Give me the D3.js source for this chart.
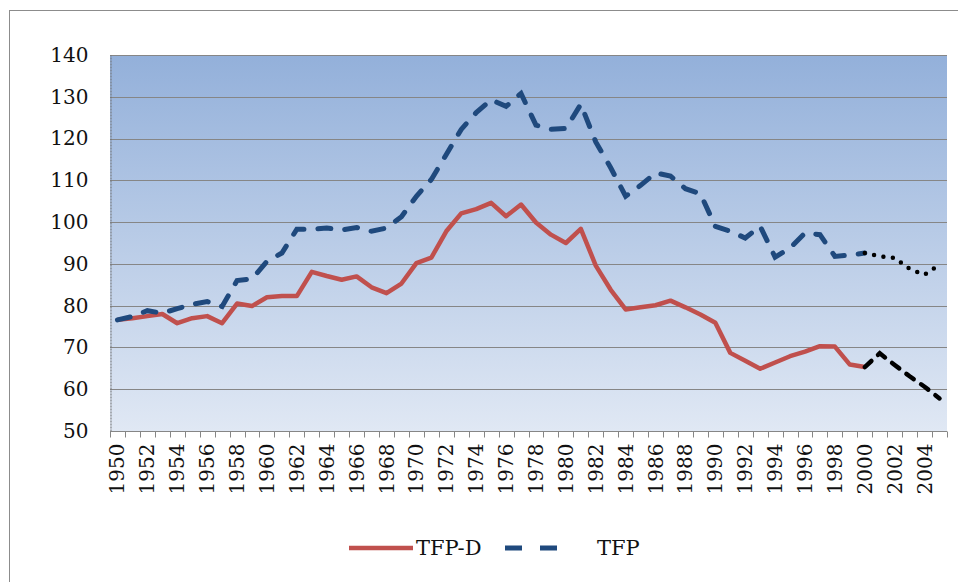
<!DOCTYPE html>
<html>
<head>
<meta charset="utf-8">
<script src="https://cdn.jsdelivr.net/npm/d3@7"></script>
<style>
  html, body { margin: 0; padding: 0; background: #fff; }
  svg { display: block; }
</style>
</head>
<body>
<svg id="chart" width="958" height="582"></svg>
<script>
// Years on the category axis (1950–2005); labels shown every second year
const years = d3.range(1950, 2006);
const tickLabels = d3.range(1950, 2005, 2);

// Observed series, 1950–2000
const tfpD = [
  76.6, 77.0, 77.5, 78.0, 75.8, 77.0, 77.5, 75.8, 80.5, 79.9,
  82.0, 82.3, 82.3, 88.1, 87.1, 86.2, 87.0, 84.4, 83.0, 85.3,
  90.2, 91.5, 97.8, 102.1, 103.1, 104.6, 101.4, 104.2, 99.9, 97.0,
  95.0, 98.4, 89.6, 83.8, 79.1, 79.6, 80.1, 81.2, 79.6, 77.9,
  75.9, 68.7, 66.8, 64.9, 66.4, 67.9, 69.0, 70.3, 70.2, 65.9,
  65.3
];
const tfp = [
  76.6, 77.4, 78.8, 78.2, 79.3, 80.3, 81.0, 79.8, 86.0, 86.4,
  90.6, 92.6, 98.3, 98.3, 98.6, 98.1, 98.7, 97.8, 98.6, 101.3,
  106.2, 110.2, 116.2, 122.2, 126.2, 129.3, 127.7, 130.8, 123.2, 122.2,
  122.4, 128.2, 119.2, 113.0, 106.2, 108.8, 111.8, 111.0, 108.0, 106.8,
  99.0, 97.8, 96.2, 99.0, 91.6, 93.8, 97.4, 97.0, 91.8, 92.1,
  92.6
];
// Projected continuation, 2000–2005
const projYears = [2000, 2001, 2002, 2003, 2004, 2005];
const tfpDProj = [65.3, 68.6, 65.8, 63.1, 60.6, 57.8];
const tfpProj = [92.6, 91.8, 91.4, 88.8, 87.4, 89.8];

const yTicks = [50, 60, 70, 80, 90, 100, 110, 120, 130, 140];

const svg = d3.select("#chart");
const plot = { left: 110, right: 947, top: 55, bottom: 431 };

const x = d3.scaleBand().domain(years).range([plot.left, plot.right]).padding(0);
const y = d3.scaleLinear().domain([50, 140]).range([plot.bottom, plot.top]);
const cx = yr => x(yr) + x.bandwidth() / 2;

// Outer chart frame
svg.append("rect")
  .attr("x", 9.5).attr("y", 10.5)
  .attr("width", 960).attr("height", 600)
  .attr("fill", "#fff")
  .attr("stroke", "#8c8c8c").attr("stroke-width", 1);

// Plot area fill
const defs = svg.append("defs");
const grad = defs.append("linearGradient")
  .attr("id", "plotFill").attr("x1", 0).attr("y1", 0).attr("x2", 0).attr("y2", 1);
grad.append("stop").attr("offset", "0%").attr("stop-color", "#93b0da");
grad.append("stop").attr("offset", "100%").attr("stop-color", "#e0e8f4");

svg.append("rect")
  .attr("x", plot.left).attr("y", plot.top)
  .attr("width", plot.right - plot.left).attr("height", plot.bottom - plot.top)
  .attr("fill", "url(#plotFill)");

// Horizontal gridlines
svg.append("g")
  .selectAll("line")
  .data(yTicks)
  .join("line")
  .attr("x1", plot.left).attr("x2", plot.right)
  .attr("y1", d => Math.round(y(d)) + 0.5).attr("y2", d => Math.round(y(d)) + 0.5)
  .attr("stroke", "#868686").attr("stroke-width", 1);

// Y axis
const yAxis = svg.append("g")
  .attr("transform", `translate(${plot.left + 0.5},0)`)
  .call(d3.axisLeft(y).tickValues(yTicks).tickSize(0).tickPadding(22).tickFormat(d3.format("d")));
yAxis.select(".domain").attr("stroke", "#6e6e6e").attr("stroke-dasharray", "2,1");
yAxis.selectAll("text")
  .attr("font-family", "'DejaVu Serif', serif")
  .attr("font-size", 20)
  .attr("fill", "#111");

// X axis: tick marks at category boundaries, labels every second year
const xAxisG = svg.append("g").attr("transform", `translate(0,${Math.round(plot.bottom) + 0.5})`);
xAxisG.append("line")
  .attr("x1", plot.left).attr("x2", plot.right)
  .attr("stroke", "#868686");
xAxisG.selectAll("line.tick")
  .data(years.concat([2006]))
  .join("line")
  .attr("class", "tick")
  .attr("x1", d => Math.round(d === 2006 ? plot.right : x(d)) + 0.5)
  .attr("x2", d => Math.round(d === 2006 ? plot.right : x(d)) + 0.5)
  .attr("y1", 0).attr("y2", 6)
  .attr("stroke", "#868686");
xAxisG.selectAll("text")
  .data(tickLabels)
  .join("text")
  .attr("transform", d => `translate(${cx(d) + 7},12) rotate(-90)`)
  .attr("text-anchor", "end")
  .attr("font-family", "'DejaVu Serif', serif")
  .attr("font-size", 20)
  .attr("fill", "#111")
  .text(d => d);

// Series lines
const line = d3.line().x(d => cx(d[0])).y(d => y(d[1]));
const obsYears = years.slice(0, tfpD.length);

svg.append("path")
  .datum(obsYears.map((yr, i) => [yr, tfpD[i]]))
  .attr("d", line)
  .attr("fill", "none")
  .attr("stroke", "#c0504d")
  .attr("stroke-width", 4.5)
  .attr("stroke-linejoin", "round");

svg.append("path")
  .datum(obsYears.map((yr, i) => [yr, tfp[i]]))
  .attr("d", line)
  .attr("fill", "none")
  .attr("stroke", "#1f497d")
  .attr("stroke-width", 5)
  .attr("stroke-linecap", "round")
  .attr("stroke-dasharray", "13,14");

svg.append("path")
  .datum(projYears.map((yr, i) => [yr, tfpDProj[i]]))
  .attr("d", line)
  .attr("fill", "none")
  .attr("stroke", "#000")
  .attr("stroke-width", 4.5)
  .attr("stroke-linecap", "round")
  .attr("stroke-dasharray", "9,9");

svg.append("path")
  .datum(projYears.map((yr, i) => [yr, tfpProj[i]]))
  .attr("d", line)
  .attr("fill", "none")
  .attr("stroke", "#000")
  .attr("stroke-width", 4.5)
  .attr("stroke-linecap", "round")
  .attr("stroke-dasharray", "0,9.5");

// Legend
const legend = svg.append("g").attr("transform", "translate(0,548)");
legend.append("line")
  .attr("x1", 349).attr("x2", 413).attr("y1", 0).attr("y2", 0)
  .attr("stroke", "#c0504d").attr("stroke-width", 4.5);
legend.append("text")
  .attr("x", 416).attr("y", 7)
  .attr("font-family", "'DejaVu Serif', serif")
  .attr("font-size", 21)
  .attr("fill", "#111")
  .text("TFP-D");
legend.append("line")
  .attr("x1", 505).attr("x2", 557).attr("y1", 0).attr("y2", 0)
  .attr("stroke", "#1f497d").attr("stroke-width", 5)
  .attr("stroke-dasharray", "17,18");
legend.append("text")
  .attr("x", 597).attr("y", 7)
  .attr("font-family", "'DejaVu Serif', serif")
  .attr("font-size", 21)
  .attr("fill", "#111")
  .text("TFP");
</script>
</body>
</html>
